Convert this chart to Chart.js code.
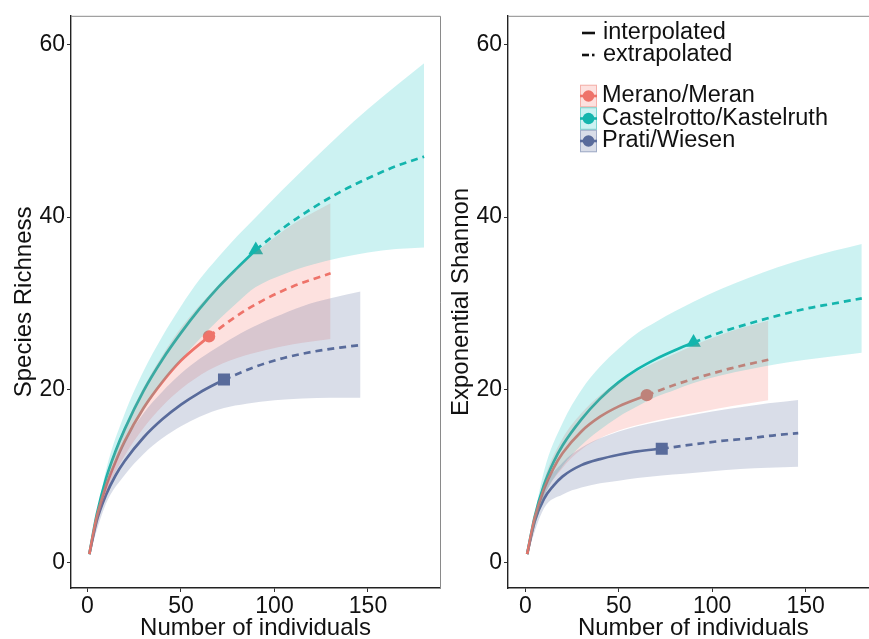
<!DOCTYPE html>
<html><head><meta charset="utf-8">
<script src="https://cdn.jsdelivr.net/npm/chart.js@4.4.1/dist/chart.umd.min.js"></script>
<style>
html,body{margin:0;padding:0;background:#fff;overflow:hidden;width:869px;height:639px;position:relative;}
#c1{position:absolute;left:0;top:0;}
#c2{position:absolute;left:437px;top:0;}
</style></head><body>
<canvas id="c1" width="442" height="639"></canvas>
<canvas id="c2" width="448" height="639"></canvas>
<script>
// ---------- data ----------
const sites = ['Merano/Meran', 'Castelrotto/Kastelruth', 'Prati/Wiesen'];
const xTicks = [0, 50, 100, 150];
const yTicks = [0, 20, 40, 60];
const lineLegend = ['interpolated', 'extrapolated'];

// sample sizes (number of individuals)
const meranoInterpN = [1, 5, 10, 15, 20, 30, 40, 50, 65];
const meranoExtrapN = [65, 80, 95, 110, 130];
const meranoBandN   = [1, 10, 20, 30, 40, 50, 65, 80, 95, 110, 130];
const castelInterpN = [1, 5, 10, 15, 20, 30, 40, 50, 60, 70, 80, 90];
const castelExtrapN = [90, 105, 120, 135, 150, 165, 180];
const castelBandN   = [1, 10, 20, 30, 40, 50, 60, 70, 80, 90, 105, 120, 135, 150, 165, 180];
const pratiInterpN  = [1, 5, 10, 15, 20, 30, 40, 50, 60, 73];
const pratiExtrapN  = [73, 90, 105, 120, 135, 146];
const pratiBandN    = [1, 10, 20, 30, 40, 50, 60, 73, 85, 100, 115, 130, 146];

// Species richness
const meranoRichInterp = [1, 5.3, 8.9, 11.7, 14.1, 17.9, 20.9, 23.4, 26.2];
const meranoRichExtrap = [26.2, 28.6, 30.5, 32.0, 33.5];
const meranoRichUpper  = [1, 9.9, 15.8, 20.3, 24.0, 27.2, 31.0, 34.1, 36.8, 39.2, 41.6];
const meranoRichLower  = [1, 8.0, 12.4, 15.6, 18.1, 20.1, 22.3, 23.7, 24.6, 25.3, 25.9];
const castelRichInterp = [1, 5.6, 9.8, 12.9, 15.5, 19.9, 23.5, 26.6, 29.4, 31.9, 34.1, 36.2];
const castelRichExtrap = [36.2, 38.8, 41.0, 42.9, 44.5, 45.9, 47.0];
const castelRichUpper  = [1, 10.8, 17.3, 22.2, 26.2, 29.7, 32.8, 35.4, 37.8, 40.0, 43.3, 46.5, 49.6, 52.5, 55.2, 57.8];
const castelRichLower  = [1, 8.8, 13.7, 17.6, 20.8, 23.5, 25.9, 28.1, 30.1, 31.9, 33.4, 34.5, 35.3, 35.9, 36.3, 36.5];
const pratiRichInterp  = [1, 4.9, 7.9, 10.1, 11.8, 14.5, 16.6, 18.3, 19.7, 21.2];
const pratiRichExtrap  = [21.2, 22.7, 23.7, 24.4, 24.9, 25.2];
const pratiRichUpper   = [1, 8.9, 13.9, 17.3, 19.8, 21.9, 23.6, 25.4, 26.9, 28.4, 29.7, 30.6, 31.4];
const pratiRichLower   = [1, 6.9, 10.2, 12.6, 14.4, 15.8, 16.9, 17.9, 18.4, 18.8, 19.0, 19.1, 19.1];

// Exponential Shannon
const meranoShanInterp = [1, 5.1, 8.5, 10.9, 12.7, 15.2, 16.9, 18.1, 19.4];
const meranoShanExtrap = [19.4, 20.6, 21.6, 22.5, 23.5];
const meranoShanUpper  = [1, 9.5, 14.4, 17.3, 19.4, 20.9, 22.7, 24.2, 25.6, 26.8, 28.0];
const meranoShanLower  = [1, 7.6, 11.0, 13.1, 14.4, 15.3, 16.2, 16.9, 17.5, 18.1, 18.8];
const castelShanInterp = [1, 5.3, 9.0, 11.6, 13.6, 16.6, 19.0, 20.9, 22.4, 23.6, 24.6, 25.5];
const castelShanExtrap = [25.5, 26.7, 27.7, 28.6, 29.4, 30.0, 30.6];
const castelShanUpper  = [1, 10.6, 16.2, 20.0, 22.7, 24.8, 26.6, 27.9, 29.1, 30.2, 31.7, 33.0, 34.2, 35.2, 36.1, 36.9];
const castelShanLower  = [1, 7.6, 11.2, 13.6, 15.4, 16.9, 18.1, 19.2, 20.0, 20.8, 21.7, 22.4, 23.0, 23.5, 23.9, 24.3];
const pratiShanInterp  = [1, 4.8, 7.4, 8.9, 10.0, 11.3, 12.0, 12.5, 12.9, 13.2];
const pratiShanExtrap  = [13.2, 13.7, 14.1, 14.4, 14.8, 15.0];
const pratiShanUpper   = [1, 8.5, 11.6, 13.3, 14.4, 15.2, 15.8, 16.4, 16.9, 17.5, 18.0, 18.45, 18.85];
const pratiShanLower   = [1, 6.3, 7.9, 8.7, 9.2, 9.5, 9.8, 10.1, 10.3, 10.6, 10.85, 11.0, 11.1];

// ---------- styling ----------
const FONT = "'Liberation Sans', Arial, Helvetica, sans-serif";
const lineCol = ['#EC7369', '#19B3A9', '#5B6E9D'];
const bandCol = ['rgba(248,118,109,0.22)', 'rgba(0,192,190,0.20)', 'rgba(80,100,150,0.22)'];
const ptStyle = ['circle', 'triangle', 'rect'];
const ptRadius = [6.2, 8.5, 8.5];

function zip(xs, ys) { return xs.map((x, i) => ({x: x, y: ys[i]})); }

function buildDatasets(S) {
  const ds = [];
  // ribbons are drawn last (on top), Prati topmost
  [2, 1, 0].forEach(k => {
    const s = S[k];
    ds.push({data: zip(s.bandN, s.upper), fill: '+1', backgroundColor: bandCol[k], borderWidth: 0,
             pointRadius: 0, cubicInterpolationMode: 'monotone', order: 0});
    ds.push({data: zip(s.bandN, s.lower), fill: false, borderWidth: 0, borderColor: 'rgba(0,0,0,0)',
             pointRadius: 0, cubicInterpolationMode: 'monotone', order: 0});
  });
  [0, 1, 2].forEach(k => {
    const s = S[k];
    ds.push({data: zip(s.interpN, s.interp), borderColor: lineCol[k], borderWidth: 2.7, fill: false,
             pointRadius: 0, cubicInterpolationMode: 'monotone', order: 1});
    ds.push({data: zip(s.extrapN, s.extrap), borderColor: lineCol[k], borderWidth: 2.7, fill: false,
             borderDash: [7, 5], pointRadius: 0, cubicInterpolationMode: 'monotone', order: 1});
  });
  [0, 1, 2].forEach(k => {
    const s = S[k];
    const n = s.interpN[s.interpN.length - 1];
    const v = s.interp[s.interp.length - 1];
    ds.push({data: [{x: n, y: v}], showLine: false, pointStyle: ptStyle[k], pointRadius: ptRadius[k],
             pointBackgroundColor: lineCol[k], pointBorderWidth: 0, pointBorderColor: lineCol[k], order: 2});
  });
  return ds;
}

const richSites = [
  {interpN: meranoInterpN, interp: meranoRichInterp, extrapN: meranoExtrapN, extrap: meranoRichExtrap, bandN: meranoBandN, upper: meranoRichUpper, lower: meranoRichLower},
  {interpN: castelInterpN, interp: castelRichInterp, extrapN: castelExtrapN, extrap: castelRichExtrap, bandN: castelBandN, upper: castelRichUpper, lower: castelRichLower},
  {interpN: pratiInterpN, interp: pratiRichInterp, extrapN: pratiExtrapN, extrap: pratiRichExtrap, bandN: pratiBandN, upper: pratiRichUpper, lower: pratiRichLower}
];
const shanSites = [
  {interpN: meranoInterpN, interp: meranoShanInterp, extrapN: meranoExtrapN, extrap: meranoShanExtrap, bandN: meranoBandN, upper: meranoShanUpper, lower: meranoShanLower},
  {interpN: castelInterpN, interp: castelShanInterp, extrapN: castelExtrapN, extrap: castelShanExtrap, bandN: castelBandN, upper: castelShanUpper, lower: castelShanLower},
  {interpN: pratiInterpN, interp: pratiShanInterp, extrapN: pratiExtrapN, extrap: pratiShanExtrap, bandN: pratiBandN, upper: pratiShanUpper, lower: pratiShanLower}
];

const frame = {
  id: 'frame',
  afterDraw(chart) {
    const a = chart.chartArea, ctx = chart.ctx;
    ctx.save();
    ctx.strokeStyle = '#8a8a8a';
    ctx.lineWidth = 1;
    ctx.beginPath();
    ctx.moveTo(a.left, a.top + 0.5); ctx.lineTo(a.right + 0.5, a.top + 0.5);
    ctx.lineTo(a.right + 0.5, a.bottom);
    ctx.stroke();
    ctx.restore();
  }
};

const legendPlugin = {
  id: 'customLegend',
  afterDraw(chart) {
    if (!chart.options.plugins.customLegend || !chart.options.plugins.customLegend.show) return;
    const ctx = chart.ctx;
    const ox = -437;
    ctx.save();
    ctx.font = '23.5px ' + FONT;
    ctx.fillStyle = '#111';
    ctx.textBaseline = 'middle';
    ctx.textAlign = 'left';
    ctx.strokeStyle = '#111';
    ctx.lineWidth = 2.6;
    ctx.beginPath(); ctx.moveTo(582 + ox, 33); ctx.lineTo(595 + ox, 33); ctx.stroke();
    ctx.beginPath(); ctx.moveTo(582 + ox, 55); ctx.lineTo(589 + ox, 55); ctx.stroke();
    ctx.beginPath(); ctx.moveTo(592 + ox, 55); ctx.lineTo(594.5 + ox, 55); ctx.stroke();
    ctx.fillText(lineLegend[0], 603 + ox, 33);
    ctx.fillText(lineLegend[1], 603 + ox, 55);
    const ys = [96, 118.5, 141];
    sites.forEach((name, k) => {
      const cy = ys[k];
      const bx = 580 + ox, bw = 17, by = cy - 11.25, bh = 22.5;
      ctx.strokeStyle = lineCol[k];
      ctx.lineWidth = 2.6;
      ctx.beginPath(); ctx.moveTo(bx, cy); ctx.lineTo(bx + bw, cy); ctx.stroke();
      ctx.fillStyle = lineCol[k];
      ctx.beginPath(); ctx.arc(bx + bw / 2, cy, 5.8, 0, Math.PI * 2); ctx.fill();
      ctx.fillStyle = bandCol[k];
      ctx.fillRect(bx, by, bw, bh);
      ctx.globalAlpha = 0.45;
      ctx.strokeStyle = lineCol[k];
      ctx.lineWidth = 1;
      ctx.strokeRect(bx + 0.5, by + 0.5, bw - 1, bh - 1);
      ctx.globalAlpha = 1;
      ctx.fillStyle = '#111';
      ctx.fillText(name, 602 + ox, cy);
    });
    ctx.restore();
  }
};

function makeChart(id, S, yTitle, xMin, xMax, padRight, showLegend) {
  return new Chart(document.getElementById(id), {
    type: 'line',
    data: {datasets: buildDatasets(S)},
    options: {
      responsive: false, animation: false, devicePixelRatio: 1,
      layout: {autoPadding: false, padding: {top: 14, left: 0, right: padRight, bottom: 0}},
      plugins: {legend: {display: false}, tooltip: {enabled: false},
                filler: {propagate: false}, customLegend: {show: showLegend}},
      scales: {
        x: {
          type: 'linear', min: xMin, max: xMax,
          afterBuildTicks: s => { s.ticks = xTicks.map(v => ({value: v})); },
          afterFit: s => { s.height = 51; },
          grid: {display: true, drawOnChartArea: false, drawTicks: true, tickLength: 4, color: '#333', lineWidth: 1},
          border: {display: true, color: '#222', width: 1.4},
          ticks: {color: '#111', font: {family: FONT, size: 23}, padding: 1, maxRotation: 0, autoSkip: false},
          title: {display: true, text: 'Number of individuals', color: '#111',
                  font: {family: FONT, size: 24, lineHeight: 0.9}, padding: 0}
        },
        y: {
          type: 'linear', min: -2.92, max: 63.3,
          afterBuildTicks: s => { s.ticks = yTicks.map(v => ({value: v})); },
          afterFit: s => { s.width = 71; },
          grid: {display: true, drawOnChartArea: false, drawTicks: true, tickLength: 4, color: '#333', lineWidth: 1},
          border: {display: true, color: '#222', width: 1.4},
          ticks: {color: '#111', font: {family: FONT, size: 23}, padding: 2, autoSkip: false},
          title: {display: true, text: yTitle, color: '#111',
                  font: {family: FONT, size: 24, lineHeight: 1.2}, padding: {top: 10, bottom: 0}}
        }
      }
    },
    plugins: [frame, legendPlugin]
  });
}

makeChart('c1', richSites, 'Species Richness', -8.8, 188.5, 2, false);
makeChart('c2', shanSites, 'Exponential Shannon', -9.25, 189, 6.4, true);
</script>
</body></html>
